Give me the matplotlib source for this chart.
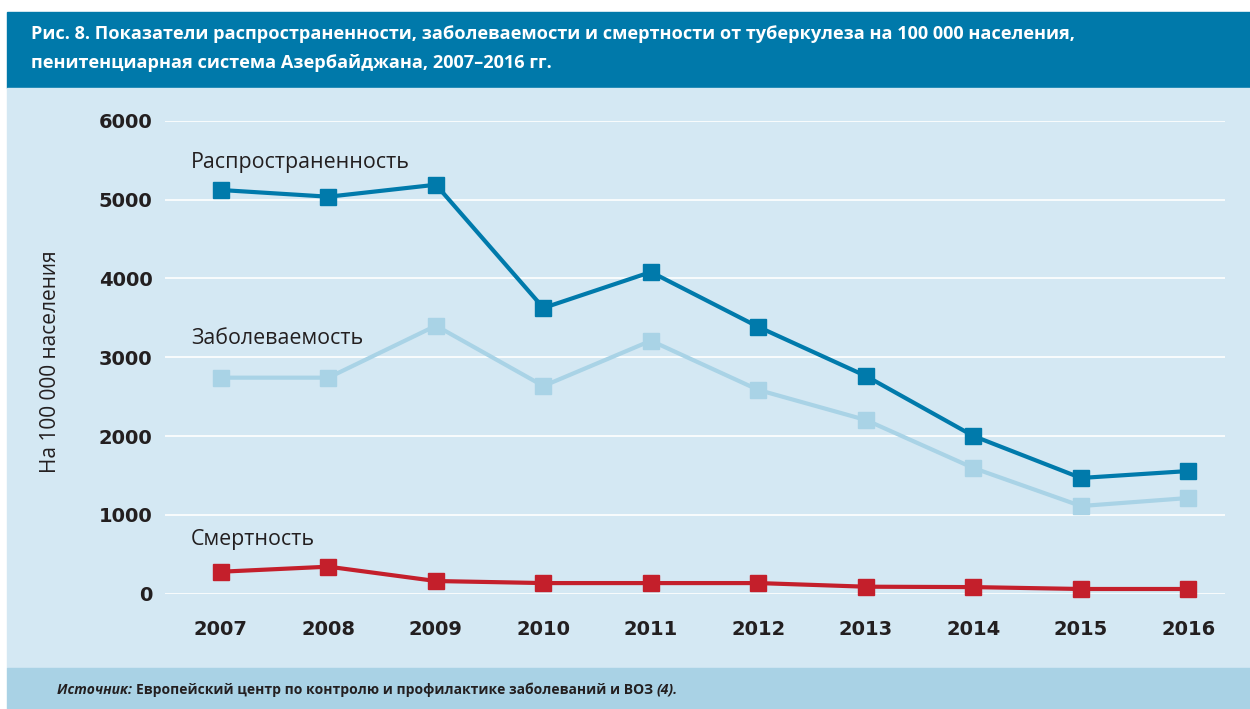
import numpy as np
import matplotlib
matplotlib.use('Agg')
import matplotlib.pyplot as plt
from matplotlib.patches import Rectangle

years = [2007, 2008, 2009, 2010, 2011, 2012, 2013, 2014, 2015, 2016]
prevalence = [5121, 5036, 5188, 3625, 4081, 3384, 2762, 2001, 1469, 1557]
incidence = [2741, 2741, 3400, 2635, 3210, 2585, 2204, 1595, 1113, 1215]
mortality = [280, 344, 162, 136, 136, 136, 90, 85, 61, 61]
yticks = [0, 1000, 2000, 3000, 4000, 5000, 6000]

c_dark = '#007aab'
c_light = '#a9d3e6'
c_red = '#c41f2b'
c_bg = '#d4e8f3'
c_head = '#0079aa'
c_foot = '#a9d2e5'
c_text = '#231f20'

W, H = 1250, 709
fig = plt.figure(figsize=(W / 100, H / 100), dpi=100)
fig.patch.set_facecolor('white')

# background bands
fig.patches.append(Rectangle((7 / W, (H - 88) / H), 1 - 7 / W, 76 / H,
                             transform=fig.transFigure, color=c_head, zorder=-10))
fig.patches.append(Rectangle((7 / W, (H - 668) / H), 1 - 7 / W, 580 / H,
                             transform=fig.transFigure, color=c_bg, zorder=-10))
fig.patches.append(Rectangle((7 / W, 0), 1 - 7 / W, 41 / H,
                             transform=fig.transFigure, color=c_foot, zorder=-10))

fig.text(31 / W, 1 - 34 / H,
         'Рис. 8. Показатели распространенности, заболеваемости и смертности от туберкулеза на 100 000 населения,',
         color='white', fontsize=13.1, fontweight='bold', family='Open Sans', va='center')
fig.text(31 / W, 1 - 63 / H,
         'пенитенциарная система Азербайджана, 2007–2016 гг.',
         color='white', fontsize=13.1, fontweight='bold', family='Open Sans', va='center')

ax = fig.add_axes([165 / W, (H - 593.8) / H, 1060 / W, 473.1 / H])
ax.set_facecolor('none')
ax.set_xlim(2006.48, 2016.34)
ax.set_ylim(0, 6000)

ax.plot(years, prevalence, color=c_dark, lw=3, marker='s', ms=11.5, clip_on=False, zorder=4)
ax.plot(years, incidence, color=c_light, lw=3, marker='s', ms=11.5, clip_on=False, zorder=3)
ax.plot(years, mortality, color=c_red, lw=3, marker='s', ms=11.5, clip_on=False, zorder=5)

ax.set_yticks(yticks)
ax.set_xticks(years)
ax.yaxis.grid(True, color='white', lw=1.2)
ax.set_axisbelow(True)
for s in ax.spines.values():
    s.set_visible(False)
ax.tick_params(axis='both', length=0, labelsize=14, labelcolor=c_text)
ax.tick_params(axis='y', pad=9)
ax.tick_params(axis='x', pad=19)
for lab in ax.get_xticklabels() + ax.get_yticklabels():
    lab.set_fontweight('bold')

ax.set_ylabel('На 100 000 населения', fontsize=15, color=c_text, family='Open Sans', labelpad=0)
ax.yaxis.set_label_coords(-104 / 1060, 0.49)

ax.text(2006.72, 5476, 'Распространенность', fontsize=15.4, color=c_text, family='Open Sans', va='center')
ax.text(2006.72, 3244, 'Заболеваемость', fontsize=15.4, color=c_text, family='Open Sans', va='center')
ax.text(2006.72, 694, 'Смертность', fontsize=15.4, color=c_text, family='Open Sans', va='center')

# footer: pieces placed one after another
renderer = fig.canvas.get_renderer()
x = 57
parts = [('Источник: ', 'italic'), ('Европейский центр по контролю и профилактике заболеваний и ВОЗ ', 'normal'),
         ('(4).', 'italic')]
for txt, st in parts:
    t = fig.text(x / W, 15 / H, txt, fontsize=10, color=c_text, family='Open Sans',
                 fontweight='bold', style=st, va='baseline')
    x += t.get_window_extent(renderer).width

fig.savefig('out.png', dpi=100, facecolor=fig.get_facecolor())
